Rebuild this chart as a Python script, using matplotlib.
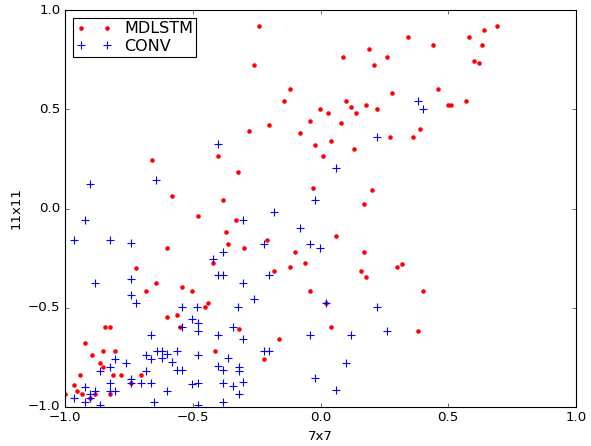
import matplotlib
matplotlib.use('Agg')
import matplotlib.pyplot as plt
import numpy as np

# scores of the two models on the 7x7 vs 11x11 settings
mdlstm_x = [-0.241, 0.341, 0.190, 0.089, 0.260, -0.261, 0.209, -0.121, 0.280, -0.142,
            0.100, 0.119, 0.179, -0.001, 0.029, 0.140, 0.220, -0.041, 0.080, -0.202,
            -0.281, -0.080, 0.271, -0.020, 0.040, 0.130, 0.010, -0.322, -0.031, 0.200,
            0.170, 0.691, 0.641, 0.581, 0.440, 0.631, 0.601, 0.620, 0.461, 0.499,
            0.510, 0.571, 0.391, 0.361, -0.400, -0.661, -0.581, -0.382,
            0.320, 0.400, 0.380, -0.331, 0.059, -0.211, -0.301, 0.170, -0.100, -0.061,
            -0.121, -0.181, 0.160, 0.179, 0.299, -0.041, 0.020, -0.320, 0.040, -0.161,
            -0.221, -0.722, -0.682, -0.481, -0.371, -0.602, -0.361, -0.421, -0.644, -0.542,
            -0.502, -0.442, -0.451, -0.843, -0.823, -0.923, -0.852, -0.803, -0.893, -0.863,
            -0.852, -0.942, -0.812, -0.782, -0.703, -0.743, -0.964, -0.953, -1.0, -0.933,
            -0.883, -0.823, -0.903, -0.601, -0.560, -0.551, -0.412]
mdlstm_y = [0.921, 0.862, 0.802, 0.762, 0.762, 0.721, 0.721, 0.602, 0.582, 0.542,
            0.542, 0.511, 0.521, 0.501, 0.481, 0.481, 0.501, 0.441, 0.432, 0.422,
            0.392, 0.382, 0.362, 0.321, 0.342, 0.301, 0.263, 0.182, 0.103, 0.093,
            0.023, 0.921, 0.901, 0.862, 0.822, 0.822, 0.742, 0.731, 0.602, 0.521,
            0.521, 0.542, 0.402, 0.362, 0.263, 0.243, 0.063, 0.043,
            -0.278, -0.417, -0.617, -0.058, -0.137, -0.157, -0.197, -0.218, -0.218, -0.276,
            -0.296, -0.316, -0.316, -0.347, -0.296, -0.417, -0.476, -0.607, -0.597, -0.657,
            -0.757, -0.298, -0.417, -0.036, -0.117, -0.197, -0.177, -0.276, -0.377, -0.397,
            -0.417, -0.476, -0.496, -0.597, -0.597, -0.676, -0.716, -0.716, -0.737, -0.777,
            -0.797, -0.837, -0.837, -0.837, -0.837, -0.877, -0.888, -0.918, -0.936, -0.936,
            -0.936, -0.936, -0.956, -0.548, -0.537, -0.597, -0.716]

conv_x = [-0.400, -0.902, -0.643, 0.220, 0.059, -0.020, -0.181, 0.380, 0.400, -0.302,
          -0.080, -0.220, -0.041, -0.002, -0.200, -0.302, -0.261, -0.322, 0.020, 0.220,
          -0.341, 0.261, -0.302, -0.041, 0.121, -0.220, -0.200, 0.100, -0.361, -0.320,
          -0.320, -0.302, -0.341, -0.320, -0.020, 0.059, -0.923, -0.964, -0.823, -0.743,
          -0.743, -0.883, -0.743, -0.721, -0.382, -0.422, -0.402, -0.382, -0.542, -0.482,
          -0.663, -0.683, -0.803, -0.663, -0.762, -0.823, -0.863, -0.683, -0.743, -0.743,
          -0.823, -0.703, -0.663, -0.923, -0.883, -0.823, -0.803, -0.903, -0.903, -0.964,
          -0.923, -0.863, -0.652, -0.502, -0.481, -0.541, -0.481, -0.400, -0.641, -0.622,
          -0.560, -0.622, -0.601, -0.481, -0.581, -0.400, -0.380, -0.560, -0.541, -0.502,
          -0.481, -0.380, -0.601, -0.380, -0.481]
conv_y = [0.323, 0.122, 0.144, 0.362, 0.203, 0.043, -0.020, 0.542, 0.501, -0.058,
          -0.098, -0.177, -0.177, -0.197, -0.337, -0.377, -0.456, -0.496, -0.476, -0.496,
          -0.597, -0.617, -0.657, -0.637, -0.637, -0.716, -0.716, -0.777, -0.755, -0.797,
          -0.817, -0.876, -0.896, -0.935, -0.855, -0.916, -0.058, -0.159, -0.159, -0.175,
          -0.357, -0.377, -0.437, -0.478, -0.218, -0.256, -0.337, -0.337, -0.496, -0.496,
          -0.637, -0.737, -0.757, -0.757, -0.777, -0.797, -0.817, -0.817, -0.859, -0.877,
          -0.877, -0.877, -0.877, -0.898, -0.918, -0.918, -0.918, -0.936, -0.956, -0.956,
          -0.976, -0.990, -0.976, -0.557, -0.577, -0.597, -0.617, -0.637, -0.716, -0.716,
          -0.716, -0.755, -0.735, -0.737, -0.775, -0.795, -0.815, -0.815, -0.815, -0.886,
          -0.877, -0.877, -0.918, -0.976, -0.990]

plt.style.use('classic')
fig = plt.figure(figsize=(591 / 80, 446 / 80), dpi=80, facecolor='white')
ax = fig.add_axes([65 / 591, 1 - 407 / 446, 511 / 591, 397 / 446])

ax.plot(mdlstm_x, mdlstm_y, '.', color='red', mec='red', ms=7, label='MDLSTM')
ax.plot(conv_x, conv_y, '+', color='blue', mec='blue', ms=7, mew=1.0, label='CONV')

ax.set_xlim(-1, 1)
ax.set_ylim(-1, 1)
ax.set_xticks(np.arange(-1, 1.01, 0.5))
ax.set_yticks(np.arange(-1, 1.01, 0.5))
ax.set_xlabel('7x7')
ax.set_ylabel('11x11')
ax.legend(loc='upper left', borderpad=0.2, labelspacing=0.15,
          handlelength=2.2, borderaxespad=0.5)

fig.savefig('out.png', dpi=80, facecolor='white')
